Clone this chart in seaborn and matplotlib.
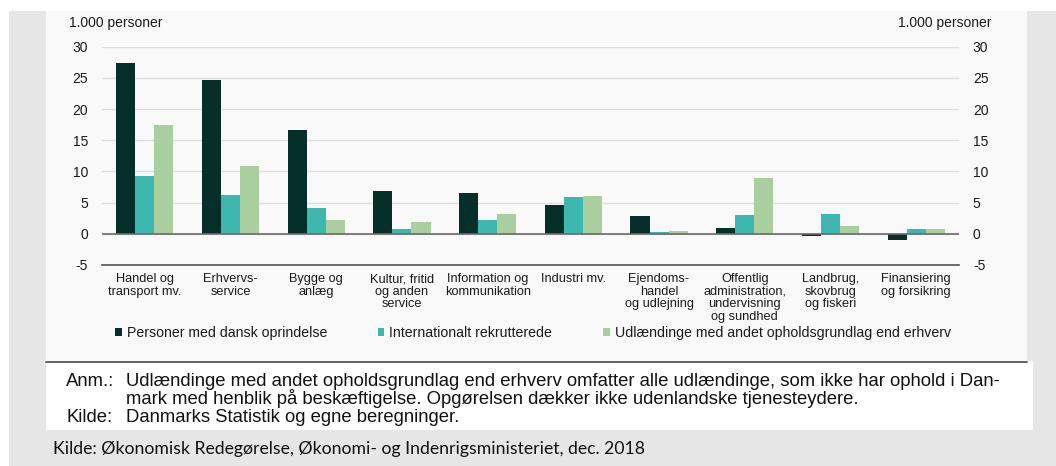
import numpy as np
import pandas as pd
import matplotlib
matplotlib.use("Agg")
import matplotlib.pyplot as plt
from matplotlib.patches import Rectangle
from matplotlib.lines import Line2D
import seaborn as sns

# data (1.000 personer)
categories = ["Handel og\ntransport mv.", "Erhvervs-\nservice", "Bygge og\nanlæg",
              "Kultur, fritid\nog anden\nservice", "Information og\nkommunikation",
              "Industri mv.", "Ejendoms-\nhandel\nog udlejning",
              "Offentlig\nadministration,\nundervisning\nog sundhed",
              "Landbrug,\nskovbrug\nog fiskeri", "Finansiering\nog forsikring"]
dansk = [27.4, 24.6, 16.6, 6.9, 6.5, 4.55, 2.9, 0.95, -0.3, -1.05]
internationalt = [9.3, 6.3, 4.1, 0.75, 2.2, 5.95, 0.25, 3.0, 3.1, 0.7]
udlaendinge = [17.5, 10.8, 2.25, 1.9, 3.1, 6.1, 0.4, 9.0, 1.2, 0.85]
series = ["Personer med dansk oprindelse", "Internationalt rekrutterede",
          "Udlændinge med andet opholdsgrundlag end erhverv"]
colors = ["#05302a", "#3cb8b0", "#aacf9f"]
yticks = [-5, 0, 5, 10, 15, 20, 25, 30]

df = pd.DataFrame({
    "kategori": categories * 3,
    "serie": [series[0]] * 10 + [series[1]] * 10 + [series[2]] * 10,
    "vaerdi": dansk + internationalt + udlaendinge,
})

sns.set_theme(style="white")
plt.rcParams["font.family"] = ["Liberation Sans", "DejaVu Sans"]
plt.rcParams["axes.unicode_minus"] = False

W, H = 1056, 466
def fx(px):
    return px / W
def fy(py):
    return 1 - py / H

fig = plt.figure(figsize=(W / 100, H / 100), dpi=100, facecolor="white")
# backgrounds
fig.add_artist(Rectangle((fx(9), 0), 1 - fx(9), fy(11), transform=fig.transFigure,
                         facecolor="#e6e6e6", edgecolor="none", zorder=-10))
fig.add_artist(Rectangle((fx(46), fy(361)), fx(1027) - fx(46), fy(11) - fy(361),
                         transform=fig.transFigure, facecolor="#f9f9f9", edgecolor="none", zorder=-9))
fig.add_artist(Rectangle((fx(46), fy(430)), fx(1033) - fx(46), fy(361) - fy(430),
                         transform=fig.transFigure, facecolor="white", edgecolor="none", zorder=-9))
fig.add_artist(Line2D([fx(46), fx(1027)], [fy(361.5), fy(361.5)], transform=fig.transFigure,
                      color="#555555", lw=1.3))

ax = fig.add_axes([fx(102), fy(265), fx(959) - fx(102), fy(46.7) - fy(265)])
ax.set_facecolor("none")

sns.barplot(data=df, x="kategori", y="vaerdi", hue="serie", palette=colors,
            width=0.667, saturation=1, linewidth=0, ax=ax, zorder=3)

ax.set_xlim(-0.5, 9.5)
ax.set_ylim(-5, 30)
ax.set_yticks(yticks)
ax.set_xlabel("")
ax.set_ylabel("")
ax.yaxis.grid(True, color="#dedede", lw=1)
ax.set_axisbelow(True)
ax.axhline(0, color="#6b6b6b", lw=1.2, zorder=4)

for s in ["left", "right", "top"]:
    ax.spines[s].set_visible(False)
ax.spines["bottom"].set_color("#555555")
ax.spines["bottom"].set_linewidth(1.2)

ax.set_xticks(range(len(categories)))
ax.set_xticklabels(categories, fontsize=9.2, linespacing=1.05, color="#1a1a1a")
ax.set_xticks(np.arange(-0.5, len(categories), 1), minor=True)
ax.tick_params(axis="x", which="major", length=0, pad=6)
ax.tick_params(axis="x", which="minor", direction="in", length=3, width=1, color="#555555")
ax.tick_params(axis="y", length=0, labelleft=True, labelright=True, left=False, right=False,
               labelsize=10, labelcolor="#1a1a1a", pad=10)

fig.text(fx(69), fy(23), "1.000 personer", fontsize=10, color="#1a1a1a", va="center", ha="left")
fig.text(fx(991), fy(23), "1.000 personer", fontsize=10, color="#1a1a1a", va="center", ha="right")

sns.move_legend(ax, loc="center", bbox_to_anchor=(fx(533), fy(333)), bbox_transform=fig.transFigure,
                ncol=3, frameon=False, title=None, fontsize=10.2, handlelength=0.45, handleheight=0.45,
                handletextpad=0.35, columnspacing=3.6, borderaxespad=0)
for t in ax.get_legend().get_texts():
    t.set_color("#1a1a1a")

note_col = "#111111"
note_fs = 13.3
fig.text(fx(66), fy(381), "Anm.:", fontsize=note_fs, color=note_col, va="center")
fig.text(fx(126), fy(381), "Udlændinge med andet opholdsgrundlag end erhverv omfatter alle udlændinge, som ikke har ophold i Dan-",
         fontsize=note_fs, color=note_col, va="center")
fig.text(fx(126), fy(399), "mark med henblik på beskæftigelse. Opgørelsen dækker ikke udenlandske tjenesteydere.",
         fontsize=note_fs, color=note_col, va="center")
fig.text(fx(66), fy(418), "Kilde:", fontsize=note_fs, color=note_col, va="center")
fig.text(fx(126), fy(418), "Danmarks Statistik og egne beregninger.", fontsize=note_fs, color=note_col, va="center")

fig.text(fx(53), fy(449), "Kilde: Økonomisk Redegørelse, Økonomi- og Indenrigsministeriet, dec. 2018",
         fontsize=12.7, family=["Lato", "DejaVu Sans"], color="#111111", va="center")

fig.savefig("out.png", dpi=100, facecolor=fig.get_facecolor())
